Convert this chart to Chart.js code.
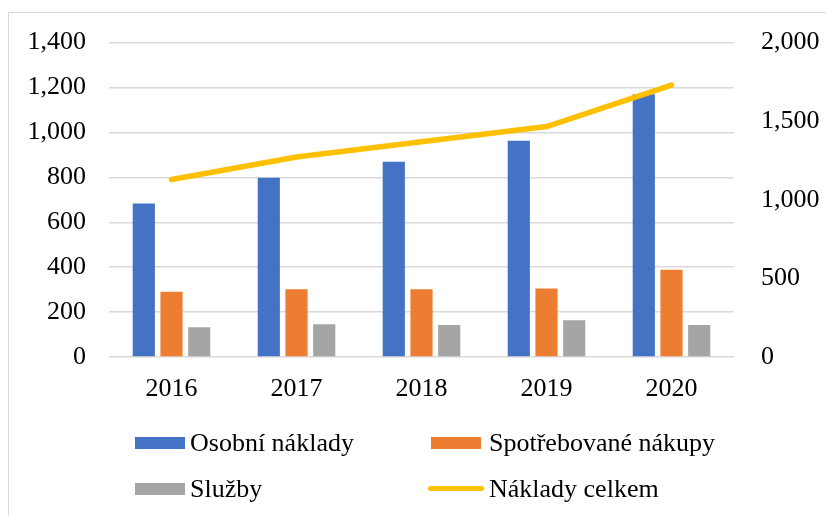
<!DOCTYPE html>
<html>
<head>
<meta charset="utf-8">
<script src="https://cdn.jsdelivr.net/npm/chart.js@4.4.1/dist/chart.umd.min.js"></script>
<style>
  body { margin: 0; background: #fff; overflow: hidden; }
  #wrap { position: relative; width: 826px; height: 516px; }
  #frame { position: absolute; left: 8px; top: 12px; width: 900px; height: 600px; border: 1px solid #d9d9d9; box-sizing: border-box; }
  #box { position: absolute; left: 0; top: 0; width: 826px; height: 516px; }
  .leg { position: absolute; font-family: "Liberation Serif", serif; font-size: 26px; line-height: 26px; color: #000; white-space: nowrap; }
  .mark { position: absolute; }
</style>
</head>
<body>
<div id="wrap">
  <div id="frame"></div>
  <div id="box"><canvas id="myChart"></canvas></div>
  <div id="legend"></div>
</div>
<script>
var years = ["2016", "2017", "2018", "2019", "2020"];
var osobni = [684, 798, 869, 963, 1170];
var spotrebovane = [291, 302, 302, 305, 388];
var sluzby = [133, 146, 143, 164, 143];
var celkem = [1129, 1272, 1369, 1466, 1730];

var seriesNames = ["Osobní náklady", "Spotřebované nákupy", "Služby", "Náklady celkem"];
var seriesColors = ["#4472c4", "#ed7d31", "#a5a5a5", "#ffc000"];

var fontTimes = { family: "'Liberation Serif', serif", size: 26 };

function fmt(v) {
    return Number(v).toLocaleString('en-US');
}

var data = {
    labels: years,
    datasets: [
        {
            type: 'bar',
            label: seriesNames[0],
            data: osobni,
            backgroundColor: seriesColors[0],
            yAxisID: 'y',
            order: 1,
            categoryPercentage: 0.665,
            barPercentage: 0.8
        },
        {
            type: 'bar',
            label: seriesNames[1],
            data: spotrebovane,
            backgroundColor: seriesColors[1],
            yAxisID: 'y',
            order: 1,
            categoryPercentage: 0.665,
            barPercentage: 0.8
        },
        {
            type: 'bar',
            label: seriesNames[2],
            data: sluzby,
            backgroundColor: seriesColors[2],
            yAxisID: 'y',
            order: 1,
            categoryPercentage: 0.665,
            barPercentage: 0.8
        },
        {
            type: 'line',
            label: seriesNames[3],
            data: celkem,
            borderColor: seriesColors[3],
            backgroundColor: seriesColors[3],
            borderWidth: 5.5,
            borderCapStyle: 'round',
            borderJoinStyle: 'round',
            pointRadius: 0,
            tension: 0,
            yAxisID: 'y1',
            order: 0
        }
    ]
};

new Chart(document.getElementById('myChart'), {
    data: data,
    options: {
        responsive: true,
        maintainAspectRatio: false,
        animation: false,
        layout: {
            padding: { top: 40, left: 0, right: 0, bottom: 0 }
        },
        plugins: {
            legend: { display: false },
            tooltip: { enabled: false }
        },
        scales: {
            x: {
                grid: { display: false },
                border: { display: false },
                ticks: { font: fontTimes, color: '#000', padding: 9 },
                afterFit: function (scale) { scale.height = 159; }
            },
            y: {
                position: 'left',
                min: 0,
                max: 1400,
                ticks: { stepSize: 200, font: fontTimes, color: '#000', padding: 23, callback: fmt },
                grid: { color: '#d9d9d9', lineWidth: 1.5, drawTicks: false },
                border: { display: false },
                afterFit: function (scale) { scale.width = 109; }
            },
            y1: {
                position: 'right',
                min: 0,
                max: 2000,
                ticks: { stepSize: 500, font: fontTimes, color: '#000', padding: 27, callback: fmt },
                grid: { display: false, drawTicks: false },
                border: { display: false },
                afterFit: function (scale) { scale.width = 92; }
            }
        }
    }
});

// legend in two columns, like the original
var legendPos = [
    { x: 135, y: 430, text: 190 },
    { x: 431, y: 430, text: 489 },
    { x: 135, y: 476, text: 190 },
    { x: 431, y: 476, text: 489 }
];
var legend = document.getElementById('legend');
for (var i = 0; i < seriesNames.length; i++) {
    var p = legendPos[i];
    var mark = document.createElement('div');
    mark.className = 'mark';
    if (i < 3) {
        mark.style.left = p.x + 'px';
        mark.style.top = (p.y + 7) + 'px';
        mark.style.width = '50px';
        mark.style.height = '12px';
        mark.style.background = seriesColors[i];
    } else {
        mark.style.left = (p.x - 3) + 'px';
        mark.style.top = (p.y + 10) + 'px';
        mark.style.width = '56px';
        mark.style.height = '5px';
        mark.style.borderRadius = '3px';
        mark.style.background = seriesColors[i];
    }
    legend.appendChild(mark);
    var t = document.createElement('div');
    t.className = 'leg';
    t.style.left = p.text + 'px';
    t.style.top = p.y + 'px';
    t.textContent = seriesNames[i];
    legend.appendChild(t);
}
</script>
</body>
</html>
